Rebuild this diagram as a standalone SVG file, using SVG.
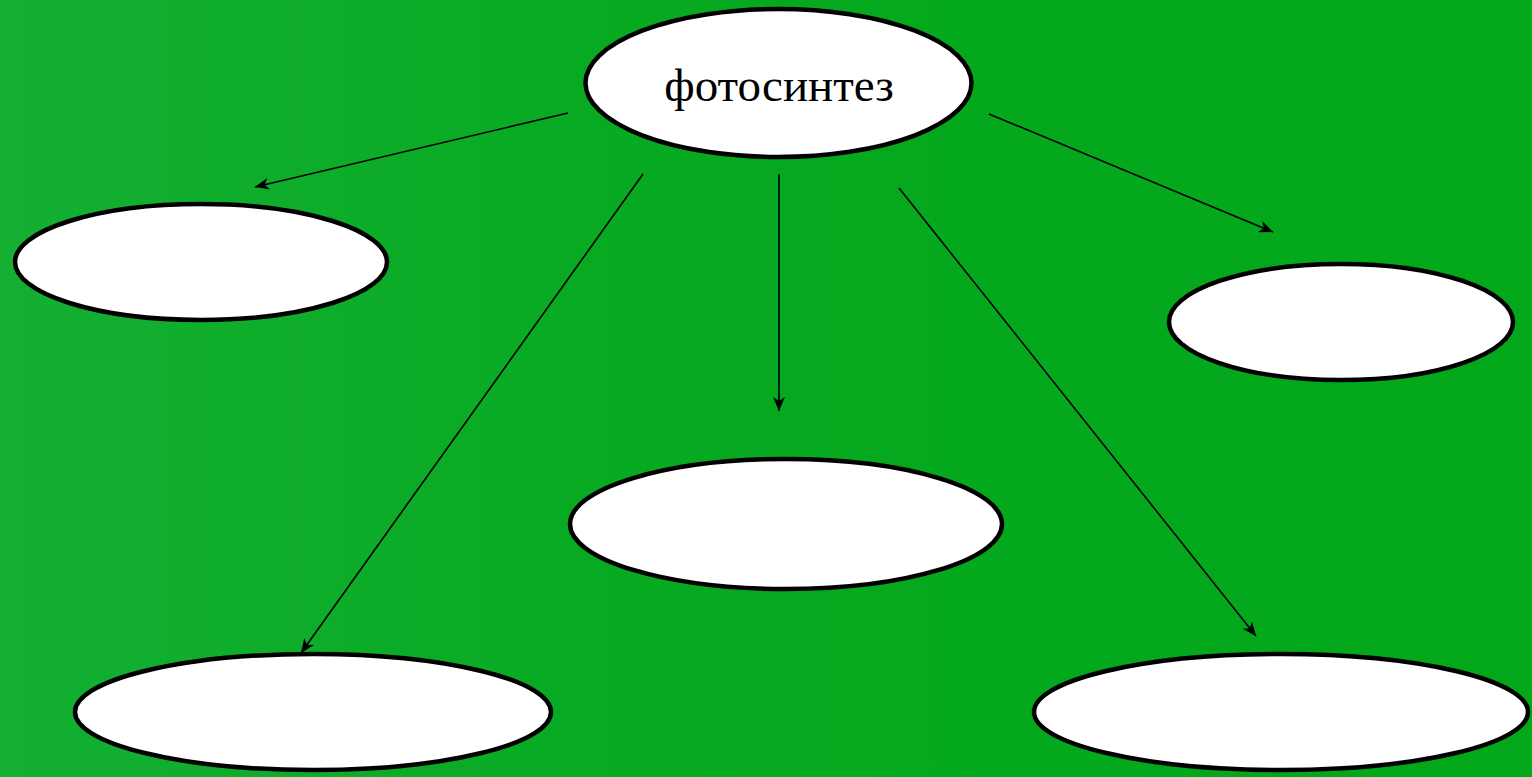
<svg xmlns="http://www.w3.org/2000/svg" width="1532" height="777" viewBox="0 0 1532 777">
<defs>
<linearGradient id="bg" x1="0" y1="0" x2="1" y2="0">
<stop offset="0" stop-color="#14af33"/>
<stop offset="0.45" stop-color="#06a91f"/>
<stop offset="1" stop-color="#02a71a"/>
</linearGradient>
<marker id="arr" markerUnits="userSpaceOnUse" markerWidth="16" markerHeight="12" refX="14" refY="6" orient="auto">
<path d="M0,0 L14,6 L0,12 L4,6 Z" fill="#000"/>
</marker>
<style>
.node ellipse{fill:#fff;stroke:#000;stroke-width:4.5}
.conn line{stroke:#000;stroke-width:1.6;marker-end:url(#arr)}
.lbl{font-family:"Liberation Serif","Times New Roman",serif;font-size:47px;fill:#000;text-anchor:middle}
</style>
</defs>
<rect width="1532" height="777" fill="url(#bg)"/>
<g id="connectors" class="conn">
<line x1="568" y1="113" x2="255" y2="187"/>
<line x1="643" y1="174" x2="301" y2="653"/>
<line x1="779" y1="174" x2="779" y2="411"/>
<line x1="899" y1="188" x2="1256" y2="636"/>
<line x1="989" y1="114" x2="1273" y2="232"/>
</g>
<g id="node-photosynthesis" class="node">
<ellipse cx="778.5" cy="83" rx="193" ry="74"/>
<text class="lbl" x="779" y="101">фотосинтез</text>
</g>
<g id="node-left" class="node"><ellipse cx="201" cy="262" rx="186" ry="58"/></g>
<g id="node-right" class="node"><ellipse cx="1341" cy="322" rx="172" ry="58"/></g>
<g id="node-middle" class="node"><ellipse cx="786" cy="524" rx="216" ry="65"/></g>
<g id="node-bottom-left" class="node"><ellipse cx="313" cy="712" rx="238" ry="58"/></g>
<g id="node-bottom-right" class="node"><ellipse cx="1281" cy="712" rx="247" ry="58"/></g>
</svg>
